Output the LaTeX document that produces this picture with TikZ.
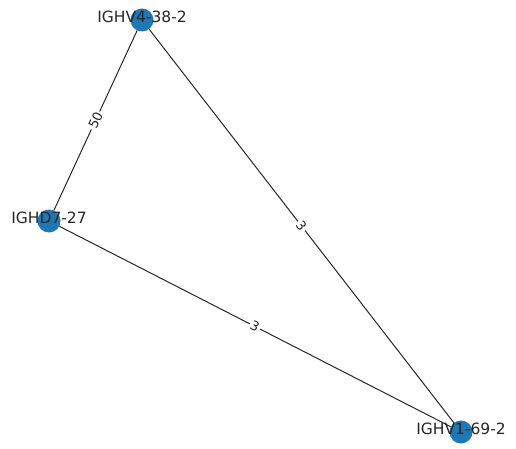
\documentclass[tikz,border=0pt]{standalone}
\usepackage{fontspec}
\setmainfont{DejaVu Sans}
\usetikzlibrary{positioning}
\definecolor{nodeblue}{RGB}{31,119,180}

\begin{document}
\begin{tikzpicture}[x=1pt,y=-1pt,
    gene/.style={circle,fill=nodeblue,minimum size=23pt,inner sep=0pt},
    genename/.style={font=\fontsize{15.5}{18}\selectfont,text=black!85,yshift=3pt},
    link/.style={draw=black!85,line width=1pt},
    weight/.style={midway,sloped,fill=white,inner sep=1.5pt,font=\fontsize{13}{15}\selectfont,text=black!85}]
    \useasboundingbox (0,0) rectangle (516,449);
    \node[gene,label={[genename]center:IGHV4-38-2}] (v438) at (142,20) {};
    \node[gene,label={[genename]center:IGHD7-27}] (d727) at (49,221) {};
    \node[gene,label={[genename]center:IGHV1-69-2}] (v169) at (461,432) {};
    \draw[link] (d727) -- node[weight] {50} (v438);
    \draw[link] (v438) -- node[weight] {3} (v169);
    \draw[link] (d727) -- node[weight] {3} (v169);
  \end{tikzpicture}
\end{document}
